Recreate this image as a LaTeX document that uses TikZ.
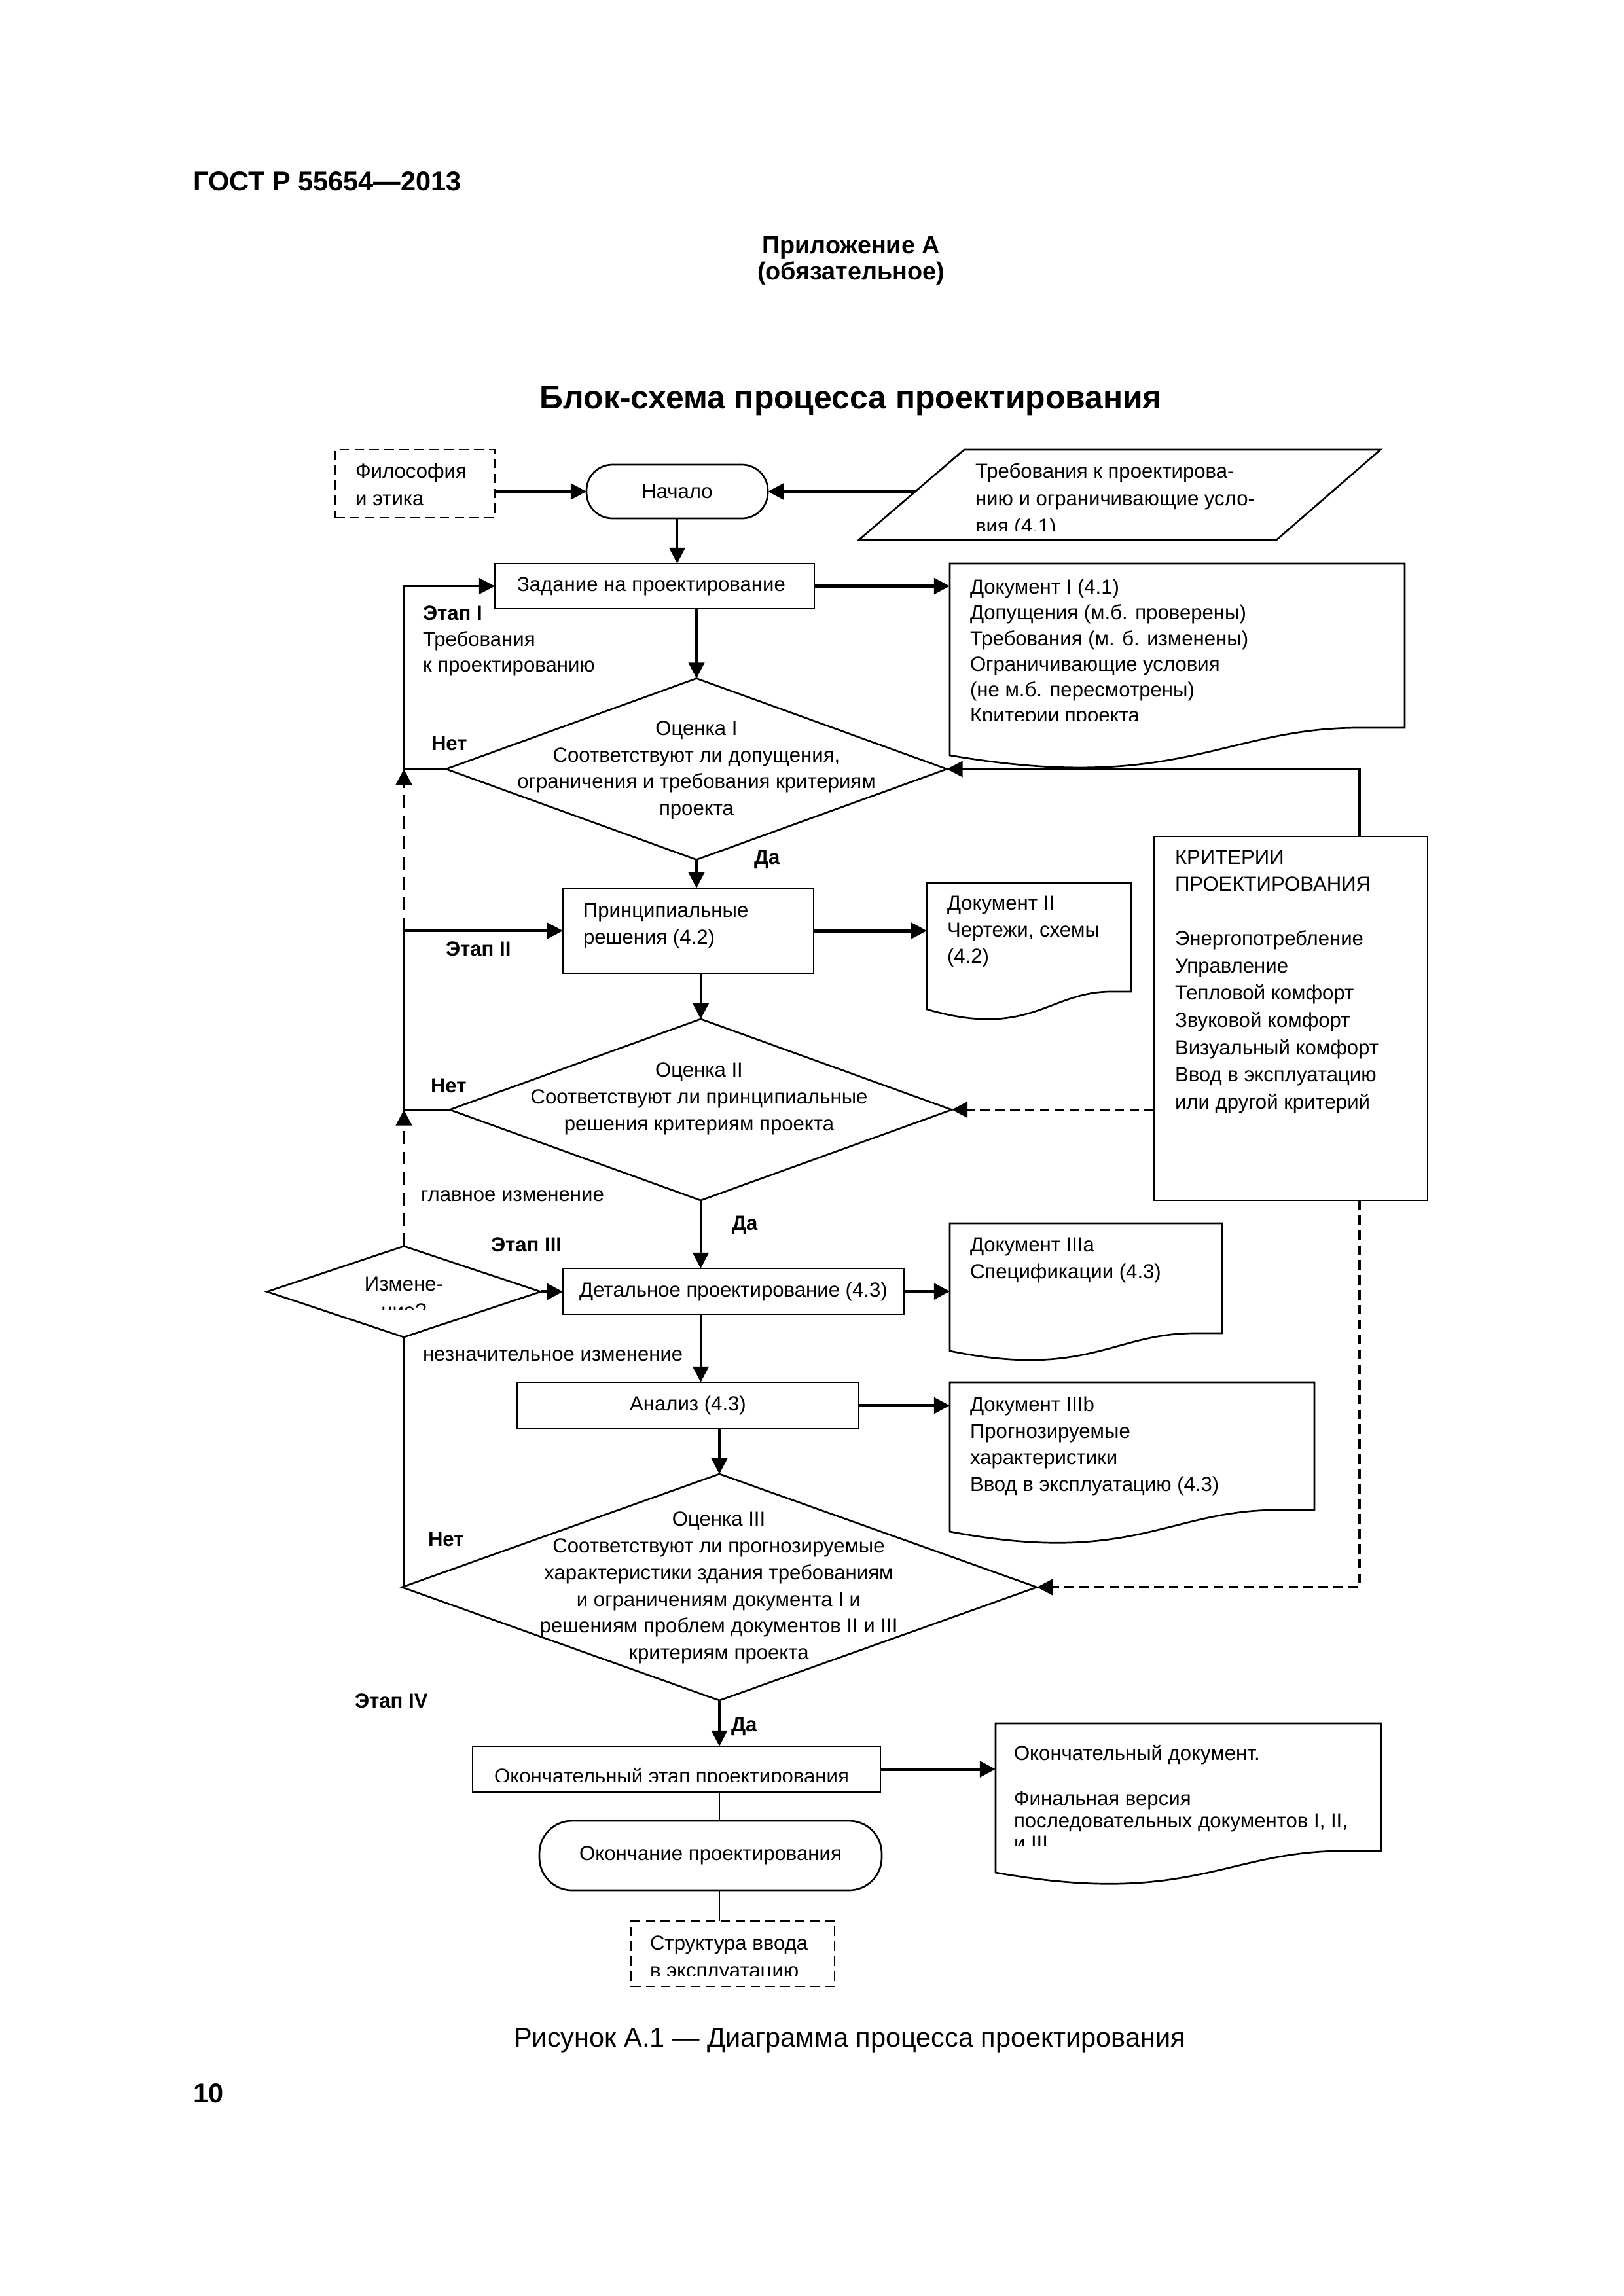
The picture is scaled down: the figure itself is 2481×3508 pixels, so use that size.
\documentclass[tikz,border=0pt]{standalone}
\usepackage{fontspec}
\setmainfont{Liberation Sans}
\usetikzlibrary{arrows.meta,shapes.geometric,fit}
\def\pxu{*0.2409pt}
\newcommand\nodefont{\fontsize{7.5}{9.8}\selectfont}
\begin{document}
\begin{tikzpicture}[x=0.2409pt,y=-0.2409pt,
  every node/.style={inner sep=0pt,outer sep=0pt},
  shp/.style={draw,line width=0.65pt},
  box/.style={shp,rectangle},
  dbox/.style={box,dash pattern=on 3.5pt off 2pt},
  dia/.style={shp,diamond},
  txt/.style={font=\nodefont,align=left,anchor=north west},
  ctxt/.style={font=\nodefont,align=center},
  lbl/.style={font=\bfseries\fontsize{7.5}{9}\selectfont,anchor=base west},
  nlbl/.style={font=\nodefont,anchor=base west},
  tip/.style={-{Triangle[length=5.8pt,width=5.8pt]}},
  conn/.style={line width=0.9pt,tip},
  thk/.style={line width=1.2pt,tip},
  thn/.style={line width=0.65pt},
  dconn/.style={line width=1pt,dash pattern=on 4.8pt off 2.7pt,tip},
  dconnr/.style={line width=0.9pt,dash pattern=on 3.5pt off 2pt,tip},
  hdr/.style={font=\bfseries\fontsize{10}{12}\selectfont},
  hdrs/.style={font=\bfseries\fontsize{9.1}{11}\selectfont}
]
\useasboundingbox (0,0) rectangle (2481,3508);

% ---------- header ----------
\node[hdr,anchor=base west] (gost) at (295,291) {ГОСТ Р 55654—2013};
\node[hdrs,anchor=base] (pril) at (1300,387) {Приложение А};
\node[hdrs,anchor=base] (obyaz) at (1300,427) {(обязательное)};
\node[font=\bfseries\fontsize{12}{14}\selectfont,anchor=base] (title) at (1300,624) {Блок-схема процесса проектирования};

% ---------- top ----------
\node[dbox, fit={(512,687)(756,791)}] (filos) {};
\node[txt, font=\fontsize{7.5}{10.1}\selectfont] (filos-t) at (543,708) {Философия\\и этика};
\node[box, rounded corners=9.5pt, fit={(896,710)(1173,792)}] (nach) {};
\node[ctxt] (nach-t) at (nach.center) {Начало};
\draw[shp] (1473,687) -- (2109,687) -- (1950,825) -- (1312,825) -- cycle;
\coordinate (par-w) at (1398,751);
\begin{scope}
\clip (1320,690) rectangle (2100,810);
\node[txt, font=\fontsize{7.5}{10.1}\selectfont] (par-t) at (1490,708) {Требования к проектирова-\\нию и ограничивающие усло-\\вия (4.1)};
\end{scope}

\node[box, fit={(756,861)(1244,930)}] (zad) {};
\node[ctxt] (zad-t) at (995,895.5) {Задание на проектирование};

% Document I
\draw[shp] (1451,861) -- (2146,861) -- (2146,1112) -- (2076.5,1112) .. controls (1868,1112) and (1798.5,1214) .. (1451,1154) -- cycle;
\node[fit={(1451,861)(2146,1154)}] (doc1) {};
\begin{scope}
\clip (1455,865) rectangle (2140,1101);
\node[txt, font=\fontsize{7.5}{9.45}\selectfont] (doc1-t) at (1482,885) {Документ I (4.1)\\Допущения (м.б. проверены)\\Требования (м. б. изменены)\\Ограничивающие условия\\(не м.б. пересмотрены)\\Критерии проекта};
\end{scope}

% Оценка I
\node[dia, minimum width=765\pxu, minimum height=277\pxu] (oc1) at (1064,1175) {};
\node[ctxt] (oc1-t) at (1064,1177) {Оценка I\\Соответствуют ли допущения,\\ограничения и требования критериям\\проекта};

% Принципиальные решения
\node[box, fit={(860,1357)(1243,1487)}] (prin) {};
\node[txt] (prin-t) at (891,1380) {Принципиальные\\решения (4.2)};

% Document II
\draw[shp] (1416,1349) -- (1728,1349) -- (1728,1515) -- (1697,1515) .. controls (1603,1515) and (1572,1588) .. (1416,1542) -- cycle;
\node[fit={(1416,1349)(1728,1542)}] (doc2) {};
\node[txt] (doc2-t) at (1447,1369) {Документ II\\Чертежи, схемы\\(4.2)};

% Критерии
\node[box, fit={(1763,1278)(2181,1834)}] (krit) {};
\node[txt, font=\fontsize{7.5}{10}\selectfont] (krit-t) at (1795,1299) {КРИТЕРИИ\\ПРОЕКТИРОВАНИЯ\\\mbox{}\\Энергопотребление\\Управление\\Тепловой комфорт\\Звуковой комфорт\\Визуальный комфорт\\Ввод в эксплуатацию\\или другой критерий};
\coordinate (kt) at (2077,1278);
\coordinate (kb) at (2077,1834);

% Оценка II
\node[dia, minimum width=767\pxu, minimum height=277\pxu] (oc2) at (1070.5,1695.5) {};
\node[ctxt] (oc2-t) at (1068,1679) {Оценка II\\Соответствуют ли принципиальные\\решения критериям проекта};

% Изменение?
\node[dia, minimum width=418\pxu, minimum height=139\pxu] (izm) at (617,1973.5) {};
\begin{scope}
\clip (480,1930) rectangle (760,2001);
\node[ctxt, anchor=north] (izm-t) at (617,1951) {Измене-\\ние?};
\end{scope}

% Детальное проектирование
\node[box, fit={(860,1938)(1381,2008)}] (detal) {};
\node[ctxt] (detal-t) at (detal.center) {Детальное проектирование (4.3)};

% Document IIIa
\draw[shp] (1451,1869) -- (1867,1869) -- (1867,2037) -- (1825,2037) .. controls (1701,2037) and (1659,2107) .. (1451,2064) -- cycle;
\node[fit={(1451,1869)(1867,2064)}] (doc3a) {};
\node[txt] (doc3a-t) at (1482,1891) {Документ IIIa\\Спецификации (4.3)};

% Анализ
\node[box, fit={(790,2112)(1312,2183)}] (analiz) {};
\node[ctxt] (analiz-t) at (analiz.center) {Анализ (4.3)};

% Document IIIb
\draw[shp] (1451,2112) -- (2008,2112) -- (2008,2307) -- (1952,2307) .. controls (1785,2307) and (1729.5,2393) .. (1451,2340) -- cycle;
\node[fit={(1451,2112)(2008,2340)}] (doc3b) {};
\node[txt] (doc3b-t) at (1482,2134) {Документ IIIb\\Прогнозируемые\\характеристики\\Ввод в эксплуатацию (4.3)};

% Оценка III
\node[dia, minimum width=970\pxu, minimum height=346\pxu] (oc3) at (1099,2425) {};
\node[ctxt] (oc3-t) at (1098,2426) {Оценка III\\Соответствуют ли прогнозируемые\\характеристики здания требованиям\\и ограничениям документа I и\\решениям проблем документов II и III\\критериям проекта};

% Окончательный этап
\node[box, fit={(722,2668)(1345,2738)}] (final) {};
\begin{scope}
\clip (726,2672) rectangle (1341,2721);
\node[font=\nodefont, anchor=base] (final-t) at (1026,2724) {Окончательный этап проектирования};
\end{scope}

% Final document
\draw[shp] (1521,2633) -- (2110,2633) -- (2110,2828) -- (2051,2828) .. controls (1874,2828) and (1815.5,2914) .. (1521,2861) -- cycle;
\node[fit={(1521,2633)(2110,2861)}] (docF) {};
\begin{scope}
\clip (1525,2637) rectangle (2106,2820);
\node[txt, font=\fontsize{7.5}{8.2}\selectfont] (docF-t) at (1549,2666) {Окончательный документ.\\[8.4pt]Финальная версия\\последовательных документов I, II,\\и III};
\end{scope}

% Окончание
\node[box, rounded corners=12pt, fit={(824,2782)(1347,2888)}] (okon) {};
\node[ctxt] (okon-t) at (okon.center) {Окончание проектирования};

% Структура
\node[dbox, fit={(964,2935)(1275,3035)}] (strukt) {};
\begin{scope}
\clip (968,2939) rectangle (1271,3018);
\node[txt, font=\fontsize{7.5}{10.1}\selectfont] (strukt-t) at (993,2958) {Структура ввода\\в эксплуатацию};
\end{scope}

% ---------- labels ----------
\node[txt, font=\fontsize{7.5}{9.5}\selectfont] (etap1) at (646,926) {\textbf{Этап I}\\Требования\\к проектированию};
\node[lbl] (net1) at (659,1146) {Нет};
\node[lbl] (da1) at (1152,1320) {Да};
\node[lbl] (etap2) at (681,1460) {Этап II};
\node[lbl] (net2) at (658,1669) {Нет};
\node[nlbl] (glav) at (643,1835) {главное изменение};
\node[lbl] (da2) at (1118,1879) {Да};
\node[lbl] (etap3) at (750,1912) {Этап III};
\node[nlbl] (nezn) at (646,2079) {незначительное изменение};
\node[lbl] (net3) at (654,2362) {Нет};
\node[lbl] (etap4) at (542,2609) {Этап IV};
\node[lbl] (da3) at (1117,2645) {Да};

% ---------- connectors ----------
\draw[thk] (filos.east |- nach.west) -- (nach.west);
\draw[thk] (par-w) -- (nach.east);
\draw[conn] (nach.south) -- (nach.south |- zad.north);
\draw[thk] (zad.east) -- (zad.east -| doc1.west);
\draw[conn] (zad.south -| oc1.north) -- (oc1.north);
\draw[conn] (oc1.west) -- (oc1.west -| izm.north) |- (zad.west);
\draw[conn] (oc1.south) -- (oc1.south |- prin.north);
\draw[thk] (prin.east) -- (prin.east -| doc2.west);
\draw[conn] (prin.south -| oc2.north) -- (oc2.north);
\draw[conn] (oc2.west) -- (oc2.west -| izm.north) |- (prin.west);
\draw[dconn] (izm.north) -- (oc2.west -| izm.north);
\draw[dconn] (prin.west -| izm.north) -- (oc1.west -| izm.north);
\draw[conn] (kt) |- (oc1.east);
\draw[dconnr] (krit.west |- oc2.east) -- (oc2.east);
\draw[dconnr] (kb) |- (oc3.east);
\draw[conn] (oc2.south) -- (oc2.south |- detal.north);
\draw[thk] (izm.east) -- (izm.east -| detal.west);
\draw[thk] (detal.east) -- (detal.east -| doc3a.west);
\draw[conn] (oc2.south |- detal.south) -- (oc2.south |- analiz.north);
\draw[thk] (analiz.east) -- (analiz.east -| doc3b.west);
\draw[conn] (analiz.south -| oc3.north) -- (oc3.north);
\draw[thn] (oc3.west) -| (izm.south);
\draw[conn] (oc3.south) -- (oc3.south |- final.north);
\draw[thk] (final.east) -- (final.east -| docF.west);
\draw[thn] (final.south -| oc3.south) -- (okon.north -| oc3.south);
\draw[thn] (okon.south -| oc3.south) -- (strukt.north -| oc3.south);

% ---------- caption ----------
\node[font=\fontsize{10}{12}\selectfont, anchor=base] (cap) at (1298,3127) {Рисунок А.1 — Диаграмма процесса проектирования};
\node[hdr, anchor=base west] (pnum) at (295,3212) {10};
\end{tikzpicture}
\end{document}
